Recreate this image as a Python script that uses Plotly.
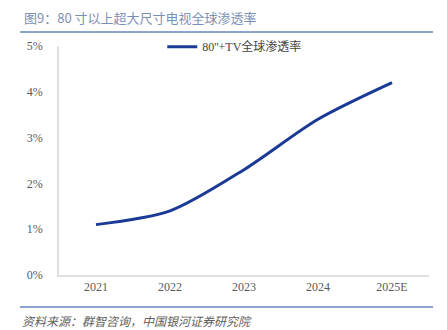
import plotly.graph_objects as go

years = ["2021", "2022", "2023", "2024", "2025E"]
penetration = [1.1, 1.4, 2.3, 3.4, 4.2]
y_ticks = [0, 1, 2, 3, 4, 5]
y_tick_labels = ["0%", "1%", "2%", "3%", "4%", "5%"]

W, H = 447, 330
fam = "Liberation Serif, Noto Sans CJK SC, serif"

fig = go.Figure()
fig.add_trace(go.Scatter(
    x=years, y=penetration, mode="lines",
    line=dict(color="#1a3a96", width=3, shape="spline", smoothing=0.8),
    name="80''+TV全球渗透率",
))

fig.update_layout(
    width=W, height=H,
    margin=dict(l=59, r=18, t=46, b=55),
    plot_bgcolor="white", paper_bgcolor="white",
    showlegend=True,
    legend=dict(x=0.475, y=1.06, xanchor="center", yanchor="top",
                font=dict(family=fam, size=12, color="#444"),
                bgcolor="rgba(0,0,0,0)", itemwidth=30),
    xaxis=dict(type="category", range=[-0.5, 4.5], showline=True,
               linecolor="#e0e0e0", linewidth=1.5, ticks="",
               showgrid=False, zeroline=False,
               tickfont=dict(family=fam, size=12, color="#5a5a5a")),
    yaxis=dict(range=[0, 5], tickvals=y_ticks, ticktext=y_tick_labels,
               showline=True, linecolor="#e0e0e0", linewidth=1.5,
               ticks="", showgrid=False, zeroline=False,
               ticklabelstandoff=12,
               tickfont=dict(family=fam, size=12, color="#5a5a5a")),
    annotations=[
        dict(text="图9：80 寸以上超大尺寸电视全球渗透率", xref="paper", yref="paper",
             x=(22 - 59) / (W - 59 - 18), y=1 + (46 - 18) / (H - 46 - 55),
             xanchor="left", yanchor="middle", showarrow=False,
             font=dict(family="Noto Sans CJK SC", size=13, color="#7b8fb6")),
        dict(text="<i>资料来源：群智咨询，中国银河证券研究院</i>", xref="paper", yref="paper",
             x=(20 - 59) / (W - 59 - 18), y=-(320 - (H - 55)) / (H - 46 - 55),
             xanchor="left", yanchor="middle", showarrow=False,
             font=dict(family="Noto Sans CJK SC", size=12, color="#606060")),
    ],
    shapes=[
        dict(type="line", xref="paper", yref="paper",
             x0=(20 - 59) / (W - 59 - 18), x1=(433 - 59) / (W - 59 - 18),
             y0=1 + (46 - 32) / (H - 46 - 55), y1=1 + (46 - 32) / (H - 46 - 55),
             line=dict(color="#8ea4cc", width=2)),
        dict(type="line", xref="paper", yref="paper",
             x0=(20 - 59) / (W - 59 - 18), x1=(433 - 59) / (W - 59 - 18),
             y0=-(307 - (H - 55)) / (H - 46 - 55), y1=-(307 - (H - 55)) / (H - 46 - 55),
             line=dict(color="#8ea4cc", width=2)),
    ],
)

fig.write_html("out.html")
